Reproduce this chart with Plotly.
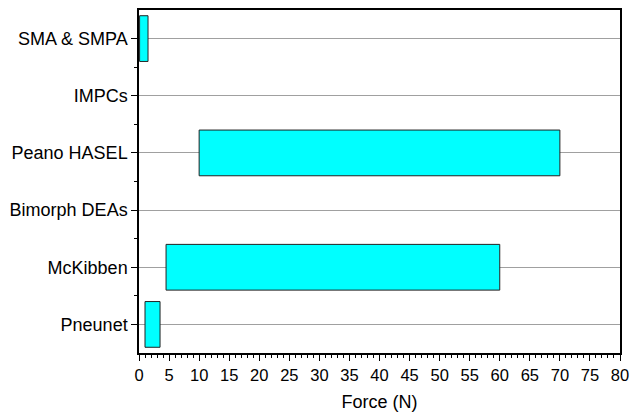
import plotly.graph_objects as go

categories = ["Pneunet", "McKibben", "Bimorph DEAs", "Peano HASEL", "IMPCs", "SMA & SMPA"]
force_min = [1.0, 4.5, None, 10.0, None, 0.1]
force_max = [3.5, 60.0, None, 70.0, None, 1.5]
x_ticks = list(range(0, 81, 5))

ypos = list(range(len(categories)))
bar_y, bar_base, bar_len = [], [], []
for i, (lo, hi) in enumerate(zip(force_min, force_max)):
    if lo is not None and hi is not None:
        bar_y.append(ypos[i])
        bar_base.append(lo)
        bar_len.append(hi - lo)

fig = go.Figure()
fig.add_trace(go.Bar(
    y=bar_y, x=bar_len, base=bar_base, orientation="h",
    width=0.8,
    marker=dict(color="#00FFFF", line=dict(color="#222222", width=1)),
    hoverinfo="skip",
))

font = "Liberation Sans, Arial, sans-serif"
fig.update_layout(
    width=632, height=417,
    margin=dict(l=139, r=12, t=10, b=64, autoexpand=False),
    plot_bgcolor="white", paper_bgcolor="white",
    showlegend=False,
    font=dict(family=font, color="black"),
    xaxis=dict(
        range=[0, 80], tickvals=x_ticks, ticktext=[str(v) for v in x_ticks],
        ticks="outside", ticklen=6, tickwidth=1, tickcolor="black",
        showline=True, linecolor="black", linewidth=1.5, mirror=True,
        showgrid=False, zeroline=False,
        tickfont=dict(size=16.5, family=font),
        title=dict(text="Force (N)", font=dict(size=18, family=font), standoff=13),
        minor=dict(dtick=1, tick0=0, ticks="outside", ticklen=3, tickcolor="black", showgrid=False),
    ),
    yaxis=dict(
        range=[-0.5, 5.5], tickvals=ypos, ticktext=categories,
        ticks="outside", ticklen=6, tickwidth=1, tickcolor="black",
        showline=True, linecolor="black", linewidth=1.5, mirror=True,
        showgrid=True, gridcolor="#a0a0a0", gridwidth=1, zeroline=False,
        tickfont=dict(size=18, family=font),
        minor=dict(tickvals=[0.5, 1.5, 2.5, 3.5, 4.5], ticks="outside", ticklen=3, tickcolor="black", showgrid=False),
    ),
)

fig.write_html("out.html", config={"displayModeBar": False},
               post_script="document.body.style.margin='0px';")
